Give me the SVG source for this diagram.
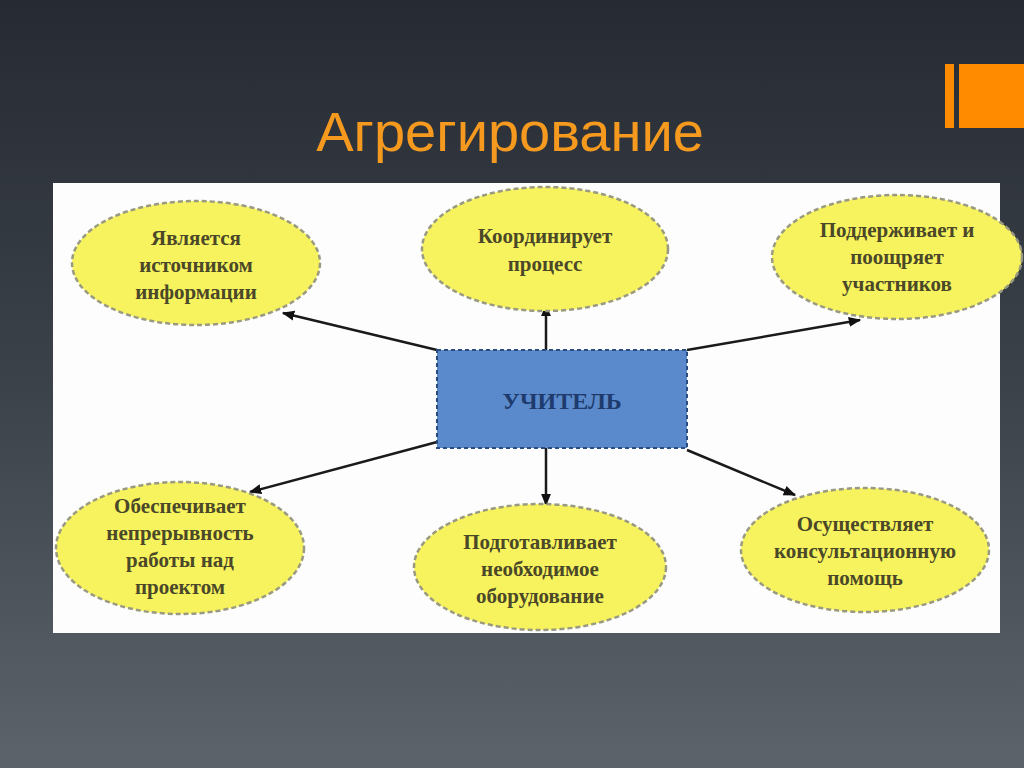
<svg xmlns="http://www.w3.org/2000/svg" width="1024" height="768" viewBox="0 0 1024 768">
<defs>
<linearGradient id="bg" x1="0" y1="0" x2="0" y2="1">
<stop offset="0" stop-color="#262b33"/>
<stop offset="0.5" stop-color="#3c424a"/>
<stop offset="1" stop-color="#5d636a"/>
</linearGradient>
<marker id="arr" viewBox="0 0 10 10" refX="9" refY="5" markerWidth="5" markerHeight="5" orient="auto-start-reverse">
<path d="M0,1 L10,5 L0,9 z" fill="#111"/>
</marker>
<style>
.ell{fill:#f7f35e;stroke:#9a9a80;stroke-width:2.5;stroke-dasharray:5 3}
.lbl{font-family:"Liberation Serif",serif;font-size:21px;font-weight:bold;fill:#4a4828;text-anchor:middle}
.con{stroke:#1a1a1a;stroke-width:2.5;fill:none;marker-end:url(#arr)}
</style>
</defs>
<rect width="1024" height="768" fill="url(#bg)"/>
<rect x="945" y="64" width="9" height="64" fill="#ff8c00"/>
<rect x="959" y="64" width="65" height="64" fill="#ff8c00"/>
<text x="510" y="151" font-family="Liberation Sans, Arial, sans-serif" font-size="56" fill="#f59a1f" text-anchor="middle">Агрегирование</text>
<rect x="53" y="183" width="947" height="450" fill="#fdfdfd"/>
<g id="connectors">
<line class="con" x1="437" y1="350" x2="283" y2="313"/>
<line class="con" x1="546" y1="350" x2="546" y2="305"/>
<line class="con" x1="687" y1="350" x2="860" y2="320"/>
<line class="con" x1="437" y1="442" x2="250" y2="492"/>
<line class="con" x1="546" y1="448" x2="546" y2="505"/>
<line class="con" x1="687" y1="450" x2="795" y2="495"/>
</g>
<g id="teacher">
<rect x="437" y="350" width="250" height="98" fill="#5a8acb" stroke="#2b4c80" stroke-width="2" stroke-dasharray="4 3"/>
<text x="562" y="409" font-family="Liberation Serif, serif" font-size="24" font-weight="bold" fill="#1f3b6e" text-anchor="middle">УЧИТЕЛЬ</text>
</g>
<g id="n1">
<ellipse class="ell" cx="196" cy="263" rx="124" ry="62"/>
<text class="lbl" x="196" y="245">Является</text>
<text class="lbl" x="196" y="272">источником</text>
<text class="lbl" x="196" y="299">информации</text>
</g>
<g id="n2">
<ellipse class="ell" cx="545" cy="249" rx="123" ry="62"/>
<text class="lbl" x="545" y="243">Координирует</text>
<text class="lbl" x="545" y="271">процесс</text>
</g>
<g id="n3">
<ellipse class="ell" cx="897" cy="257" rx="125" ry="62"/>
<text class="lbl" x="897" y="237">Поддерживает и</text>
<text class="lbl" x="897" y="264">поощряет</text>
<text class="lbl" x="897" y="291">участников</text>
</g>
<g id="n4">
<ellipse class="ell" cx="180" cy="548" rx="124" ry="66"/>
<text class="lbl" x="180" y="513">Обеспечивает</text>
<text class="lbl" x="180" y="540">непрерывность</text>
<text class="lbl" x="180" y="567">работы над</text>
<text class="lbl" x="180" y="594">проектом</text>
</g>
<g id="n5">
<ellipse class="ell" cx="540" cy="567" rx="126" ry="63"/>
<text class="lbl" x="540" y="549">Подготавливает</text>
<text class="lbl" x="540" y="576">необходимое</text>
<text class="lbl" x="540" y="603">оборудование</text>
</g>
<g id="n6">
<ellipse class="ell" cx="865" cy="550" rx="124" ry="62"/>
<text class="lbl" x="865" y="531">Осуществляет</text>
<text class="lbl" x="865" y="558">консультационную</text>
<text class="lbl" x="865" y="585">помощь</text>
</g>
</svg>
